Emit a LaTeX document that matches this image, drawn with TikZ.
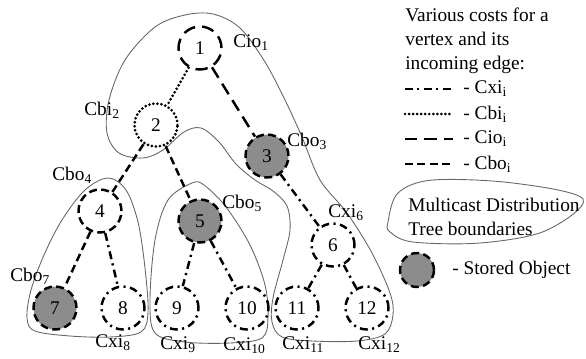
\documentclass[tikz,border=0pt]{standalone}
\usepackage{fontspec}
\setmainfont{Liberation Serif}
\begin{document}
\begin{tikzpicture}[x=0.02cm,y=-0.02cm,
  every node/.style={font=\fontsize{11}{13.6}\selectfont},
  vtx/.style={circle, draw, line width=1.4pt, minimum size=0.86cm, inner sep=0pt},
  stored/.style={vtx, fill=black!45},
  cxi/.style={line width=1.4pt, dash pattern=on 4.5pt off 2.5pt on 1.2pt off 2.5pt},
  cbi/.style={line width=1.7pt, line cap=round, dash pattern=on 0pt off 2.3pt},
  cio/.style={line width=1.4pt, dash pattern=on 7pt off 4pt},
  cbo/.style={line width=1.4pt, dash pattern=on 4.5pt off 2.5pt},
  bound/.style={draw=black!60, line width=0.5pt},
  lbl/.style={anchor=west, inner sep=0pt}]
  \useasboundingbox (0,0) rectangle (586,359);

  % Tree boundaries
  \draw[bound] plot[smooth cycle, tension=0.55] coordinates {
    (213,14) (240,28) (265,62) (285,100) (302,137) (320,180) (347,213)
    (372,253) (390,293) (393,315) (385,334) (357,341) (313,341) (282,337)
    (272,322) (273,298) (283,260) (290,230) (287,206) (273,191) (255,180)
    (236,164) (219,142) (201,128) (184,132) (163,150) (143,158) (119,153)
    (107,133) (109,100) (125,60) (155,27) (185,15)};
  \draw[bound] plot[smooth cycle, tension=0.55] coordinates {
    (108,178) (85,190) (62,220) (44,255) (31,290) (27,318) (35,331)
    (70,336) (110,337) (141,332) (148,312) (145,268) (138,222) (126,190)};
  \draw[bound] plot[smooth cycle, tension=0.55] coordinates {
    (192,183) (168,200) (155,240) (150,300) (155,333) (185,342) (230,343)
    (262,338) (268,318) (265,285) (250,245) (226,207) (204,185)};

  % Vertices
  \node[vtx, cio] (n1) at (200,48) {1};
  \node[vtx, cbi] (n2) at (156,125) {2};
  \node[stored, cbo] (n3) at (267,156) {3};
  \node[vtx, cbo] (n4) at (100,211) {4};
  \node[stored, cbo] (n5) at (200,221) {5};
  \node[vtx, cxi] (n6) at (333,245) {6};
  \node[stored, cbo] (n7) at (55,308) {7};
  \node[vtx, cxi] (n8) at (123,308) {8};
  \node[vtx, cxi] (n9) at (177,308) {9};
  \node[vtx, cxi] (n10) at (247,308) {10};
  \node[vtx, cxi] (n11) at (297,308) {11};
  \node[vtx, cxi] (n12) at (367,308) {12};

  % Incoming edges
  \draw[cbi] (n1) -- (n2);
  \draw[cio] (n1) -- (n3);
  \draw[cbo] (n2) -- (n4);
  \draw[cbo] (n2) -- (n5);
  \draw[cxi] (n3) -- (n6);
  \draw[cbo] (n4) -- (n7);
  \draw[cxi] (n4) -- (n8);
  \draw[cxi] (n5) -- (n9);
  \draw[cxi] (n5) -- (n10);
  \draw[cxi] (n6) -- (n11);
  \draw[cxi] (n6) -- (n12);

  % Cost labels
  \node[lbl] (c1) at (233,43) {Cio\textsubscript{1}};
  \node[lbl] (c2) at (84,110) {Cbi\textsubscript{2}};
  \node[lbl] (c3) at (287,141) {Cbo\textsubscript{3}};
  \node[lbl] (c4) at (52,175) {Cbo\textsubscript{4}};
  \node[lbl] (c5) at (222,203) {Cbo\textsubscript{5}};
  \node[lbl] (c6) at (328,213) {Cxi\textsubscript{6}};
  \node[lbl] (c7) at (10,276) {Cbo\textsubscript{7}};
  \node[lbl] (c8) at (95,343) {Cxi\textsubscript{8}};
  \node[lbl] (c9) at (160,345) {Cxi\textsubscript{9}};
  \node[lbl] (c10) at (223,346) {Cxi\textsubscript{10}};
  \node[lbl] (c11) at (282,345) {Cxi\textsubscript{11}};
  \node[lbl] (c12) at (358,345) {Cxi\textsubscript{12}};

  % Legend
  \node[lbl, anchor=north west, align=left] (title) at (405,8)
    {Various costs for a\\vertex and its\\incoming edge:};
  \foreach \sty/\nm [count=\i] in {cxi/Cxi, cbi/Cbi, cio/Cio, cbo/Cbo} {
    \coordinate (la\i) at (405,{64+25*\i});
    \coordinate (lb\i) at (453,{64+25*\i});
    \draw[\sty] (la\i) -- (lb\i);
    \node[lbl] (ln\i) at (463,{64+25*\i}) {- \nm\textsubscript{i}};
  }
  \draw[bound] plot[smooth cycle, tension=0.55] coordinates {
    (388,222) (398,193) (433,180) (513,183) (583,199) (545,231) (480,243)
    (413,242) (390,232)};
  \node[lbl, align=left] (mdt) at (408,217) {Multicast Distribution\\Tree boundaries};
  \node[stored, cbo, minimum size=0.68cm] (so) at (417,270) {};
  \node[lbl] (sol) at (452,270) {- Stored Object};
\end{tikzpicture}
\end{document}
